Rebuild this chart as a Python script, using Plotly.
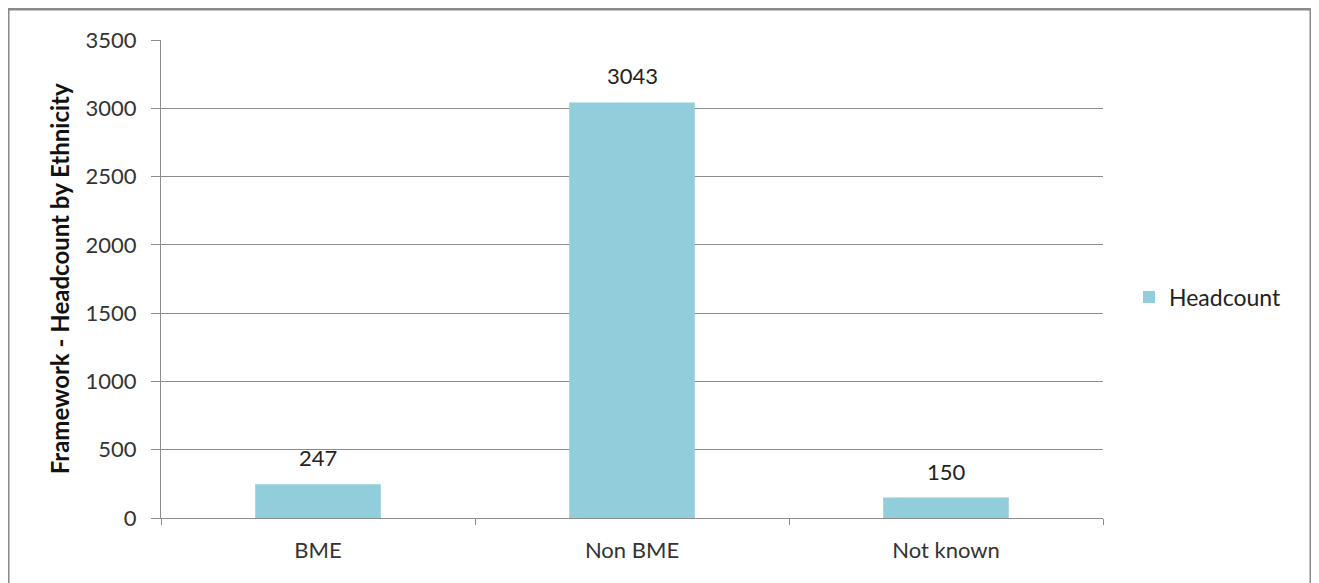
import plotly.graph_objects as go

# values
categories = ["BME", "Non BME", "Not known"]
headcount = [247, 3043, 150]
y_ticks = [0, 500, 1000, 1500, 2000, 2500, 3000, 3500]

BAR_COLOR = "#92CDDC"
GRID = "#8c8c8c"
FONT = "Lato, 'Open Sans', sans-serif"

fig = go.Figure()
fig.add_trace(
    go.Bar(
        x=categories,
        y=headcount,
        name="Headcount",
        marker=dict(color=BAR_COLOR, line=dict(width=0)),
    )
)

# value labels sit a bit higher than plotly's "outside" text would
labels = [
    dict(
        x=c,
        y=v,
        xref="x",
        yref="y",
        text=str(v),
        showarrow=False,
        yanchor="bottom",
        yshift=11,
        font=dict(size=22, color="#222222", family=FONT),
    )
    for c, v in zip(categories, headcount)
]

# page is offset by 8px, plot area wanted at px x 161..1103, y 40..518
fig.update_layout(
    width=1319,
    height=583,
    margin=dict(l=153, r=224, t=32, b=73),
    paper_bgcolor="white",
    plot_bgcolor="white",
    font=dict(family=FONT, size=22, color="#333333"),
    bargap=0.6,
    showlegend=True,
    legend=dict(
        x=1.0276,
        y=0.462,
        xanchor="left",
        yanchor="middle",
        font=dict(size=23, color="#222222"),
        itemwidth=30,
    ),
    xaxis=dict(
        showline=True,
        linecolor=GRID,
        linewidth=1,
        ticks="outside",
        tickson="boundaries",
        ticklen=6,
        tickcolor=GRID,
        showgrid=False,
        ticklabelstandoff=13,
        tickfont=dict(size=22, color="#333333"),
    ),
    yaxis=dict(
        range=[0, 3500],
        tickvals=y_ticks,
        showline=True,
        linecolor=GRID,
        linewidth=1,
        ticks="outside",
        ticklen=9,
        tickcolor=GRID,
        showgrid=True,
        gridcolor=GRID,
        gridwidth=1,
        zeroline=False,
        ticklabelstandoff=10,
        tickfont=dict(size=22, color="#333333"),
    ),
    shapes=[
        # outer chart border
        dict(
            type="rect",
            xref="paper",
            yref="paper",
            x0=-0.1624,
            x1=1.2208,
            y0=-0.2,
            y1=1.0649,
            line=dict(color="#8a8a8a", width=3),
            fillcolor="rgba(0,0,0,0)",
            layer="below",
        )
    ],
    annotations=labels
    + [
        dict(
            text="<b>Framework - Headcount by Ethnicity</b>",
            x=-0.108,
            y=0.5,
            xref="paper",
            yref="paper",
            textangle=-90,
            showarrow=False,
            xanchor="center",
            yanchor="middle",
            font=dict(size=24, color="#111111", family=FONT),
        )
    ],
)

fig.write_html("out.html")
